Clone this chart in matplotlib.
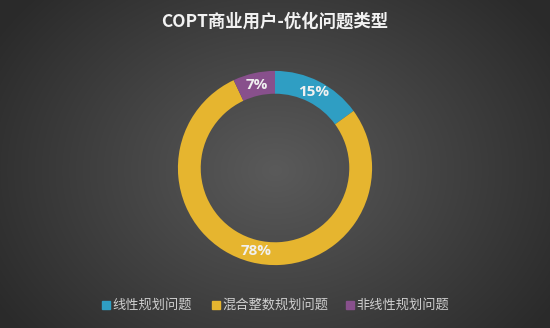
import numpy as np
import matplotlib
matplotlib.use("Agg")
import matplotlib.pyplot as plt
from matplotlib.patches import Rectangle

plt.rcParams['font.family'] = ['Noto Sans CJK SC', 'DejaVu Sans']

title = "COPT商业用户-优化问题类型"
labels = ["线性规划问题", "混合整数规划问题", "非线性规划问题"]
values = [15, 78, 7]
colors = ["#2f9ec3", "#e6b52f", "#88508c"]

W, H = 550, 328
fig = plt.figure(figsize=(W / 100, H / 100), dpi=100)

# radial gradient background
bg = fig.add_axes([0, 0, 1, 1])
yy, xx = np.mgrid[0:H, 0:W]
r = np.sqrt(((xx - 275) / 330.0) ** 2 + ((yy - 170) / 260.0) ** 2)
r = np.clip(r, 0, 1)
c0 = np.array([0x5a, 0x5a, 0x5a]) / 255
c1 = np.array([0x2a, 0x2a, 0x2a]) / 255
img = c0[None, None, :] * (1 - r[..., None]) + c1[None, None, :] * r[..., None]
bg.imshow(img, aspect="auto", extent=[0, 1, 0, 1])
bg.axis("off")

# donut: centre (275, 168) px, outer radius ~97 px
ax = fig.add_axes([175 / W, (328 - 268) / H, 200 / W, 200 / H])
ax.set_aspect("equal")
ax.pie(values, colors=colors, startangle=90, counterclock=False,
       radius=1.0, wedgeprops=dict(width=0.235, edgecolor="none"))
ax.set_xlim(-1.03, 1.03)
ax.set_ylim(-1.03, 1.03)

# percent labels in the ring
ang0 = 90
for v in values:
    mid = ang0 - v * 3.6 / 2
    ang0 -= v * 3.6
    a = np.deg2rad(mid)
    if v == 78:
        a = np.deg2rad(-103)
    ax.text(0.88 * np.cos(a), 0.88 * np.sin(a), f"{v}%", ha="center", va="center",
            color="#f0f0f0", fontsize=11, fontweight="bold", family="Open Sans")

fig.text(0.5, 1 - 22 / H, title, ha="center", va="center", color="#f2f2f2",
         fontsize=12.5, fontweight="bold")

# legend
xs = [106, 216, 350]
for x, lab, col in zip(xs, labels, colors):
    fig.patches.append(Rectangle(((x - 4) / W, 1 - 309 / H), 8 / W, 8 / H,
                                 color=col, transform=fig.transFigure))
    fig.text((x + 6) / W, 1 - 305 / H, lab, ha="left", va="center",
             color="#d0d0d0", fontsize=9.5)

fig.savefig("out.png", dpi=100)
